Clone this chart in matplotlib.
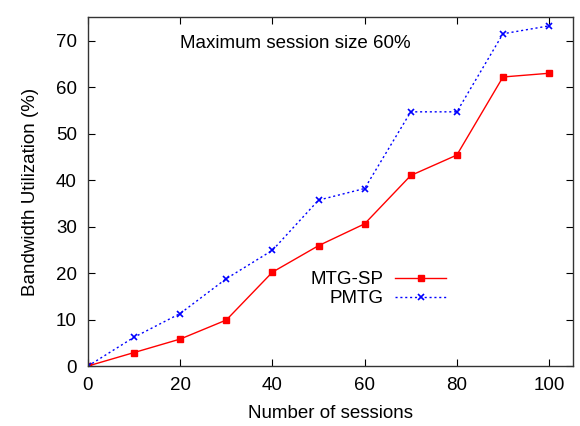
import matplotlib
matplotlib.use('Agg')
import matplotlib.pyplot as plt

plt.rcParams['font.family'] = ['Liberation Sans', 'DejaVu Sans']
plt.rcParams['font.size'] = 13.5

sessions = [0, 10, 20, 30, 40, 50, 60, 70, 80, 90, 100]
mtg_sp = [0, 2.9, 5.8, 9.9, 20.2, 25.9, 30.6, 41.0, 45.4, 62.2, 63.0]
pmtg = [0, 6.2, 11.3, 18.8, 24.9, 35.7, 38.2, 54.7, 54.7, 71.5, 73.2]

fig = plt.figure(figsize=(5.8, 4.26), dpi=100)
ax = fig.add_axes([0.1517, 0.1408, 0.8363, 0.8192])

ax.plot(sessions, mtg_sp, color='#ff0000', lw=1, marker='s', ms=5,
        label='MTG-SP')
ax.plot(sessions, pmtg, color='#0000ff', lw=1, ls=(0, (1.5, 2)),
        marker='x', ms=5, mew=1.2, label='PMTG')

ax.set_xlim(0, 105.2)
ax.set_ylim(0, 75.1)
ax.set_xticks(range(0, 101, 20))
ax.set_yticks(range(0, 71, 10))
ax.tick_params(direction='in', top=True, right=True, length=5, width=0.8,
               labelsize=13.5, pad=8)
for s in ax.spines.values():
    s.set_linewidth(1)
    s.set_color('#333333')

ax.set_xlabel('Number of sessions', labelpad=8)
ax.set_ylabel('Bandwidth Utilization (%)', labelpad=12)

ax.text(0.19, 0.925, 'Maximum session size 60%', transform=ax.transAxes,
        fontsize=13.5, va='center', ha='left')

ax.legend(loc='upper right', bbox_to_anchor=(446 / 580, 1 - 271 / 426),
          bbox_transform=fig.transFigure, frameon=False, markerfirst=False,
          handlelength=2.7, handletextpad=0.65, labelspacing=0.1,
          borderpad=0, borderaxespad=0, fontsize=13.5)

fig.savefig('out.png', dpi=100)
